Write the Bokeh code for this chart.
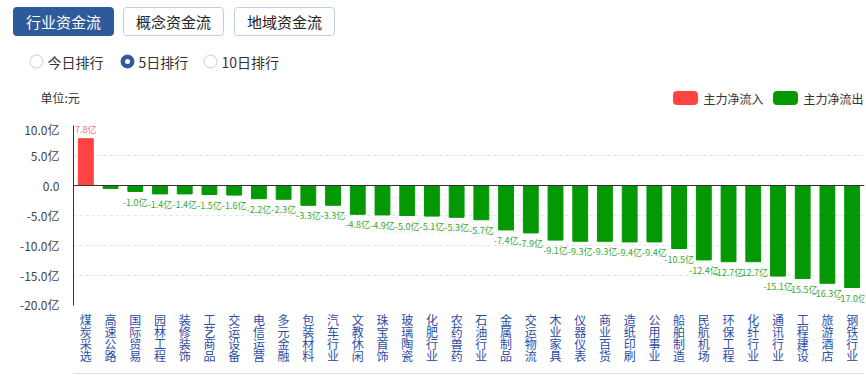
from bokeh.plotting import figure
from bokeh.layouts import column
from bokeh.models import (FactorRange, Range1d, Span, BoxAnnotation, FixedTicker,
                          ColumnDataSource, Label)
from bokeh.core.properties import value
from bokeh.embed import file_html
from bokeh.resources import INLINE

# ---------------- data ----------------
categories = ["煤炭采选", "高速公路", "国际贸易", "园林工程", "装修装饰", "工艺商品", "交运设备",
              "电信运营", "多元金融", "包装材料", "汽车行业", "文教休闲", "珠宝首饰", "玻璃陶瓷",
              "化肥行业", "农药兽药", "石油行业", "金属制品", "交运物流", "木业家具", "仪器仪表",
              "商业百货", "造纸印刷", "公用事业", "船舶制造", "民航机场", "环保工程", "化纤行业",
              "通讯行业", "工程建设", "旅游酒店", "钢铁行业"]
net_flow = [7.8, -0.5, -1.0, -1.4, -1.4, -1.5, -1.6, -2.2, -2.3, -3.3, -3.3, -4.8, -4.9, -5.0,
            -5.1, -5.3, -5.7, -7.4, -7.9, -9.1, -9.3, -9.3, -9.4, -9.4, -10.5, -12.4, -12.7,
            -12.7, -15.1, -15.5, -16.3, -17.0]
hidden_labels = ["高速公路"]
y_ticks = [-20, -15, -10, -5, 0, 5, 10]
y_tick_labels = ["-20.0亿", "-15.0亿", "-10.0亿", "-5.0亿", "0.0", "5.0亿", "10.0亿"]
tabs = ["行业资金流", "概念资金流", "地域资金流"]
radios = ["今日排行", "5日排行", "10日排行"]
legend_items = ["主力净流入", "主力净流出"]

FONT = "Noto Sans CJK SC"
RED = "#ff4242"
GREEN = "#059805"
BLUE = "#2f5a9a"

W = 866
LEFT, RIGHT = 73, 2
TOP_H = 120


def box(fig, l, r, t, b, fill, line, radius):
    fig.add_layout(BoxAnnotation(left=l, right=r, top=t, bottom=b, fill_color=fill,
                                 fill_alpha=1, line_color=line, line_alpha=1 if line else 0,
                                 line_dash="solid", line_width=1, border_radius=int(radius),
                                 level="underlay"))


def label(fig, x, y, text, color, size, align="left"):
    fig.add_layout(Label(x=x, y=y, text=text, text_color=color, text_font=FONT,
                         text_font_size=size, text_align=align, text_baseline="middle"))


# ---------------- top controls (page pixel coordinates) ----------------
top = figure(width=W, height=TOP_H, x_range=Range1d(0, W), y_range=Range1d(TOP_H, 0),
             output_backend="svg", toolbar_location=None, min_border=0)
if "frame_align" in top.properties():
    top.frame_align = False
top.axis.visible = False
top.grid.visible = False
top.outline_line_color = None

tab_x = [13, 123, 234]
for i, (t, x0) in enumerate(zip(tabs, tab_x)):
    active = i == 0
    box(top, x0, x0 + 100, 7, 35, BLUE if active else "white",
        BLUE if active else "#bcd0e8", 3)
    label(top, x0 + 50, 21, t, "white" if active else "#222222", "15px", "center")

radio_x = [36, 127, 210]
for i, (t, rx) in enumerate(zip(radios, radio_x)):
    active = i == 1
    box(top, rx - 6.5, rx + 6.5, 54.5, 67.5, BLUE if active else "white",
        BLUE if active else "#c3d3e6", 7)
    if active:
        box(top, rx - 2.5, rx + 2.5, 58.5, 63.5, "white", None, 3)
    label(top, rx + 11, 61, t, "#333333", "14px")

label(top, 40, 97, "单位:元", "#333333", "12px")

leg_x = [673, 773]
for lx, c, t in zip(leg_x, [RED, GREEN], legend_items):
    box(top, lx, lx + 24, 91, 104, c, c, 3)
    label(top, lx + 30, 97.5, t, "#333333", "12px")

# ---------------- chart ----------------
p = figure(width=W, height=192, x_range=FactorRange(*categories), y_range=Range1d(-20, 10),
           output_backend="svg", toolbar_location=None,
           min_border_left=LEFT, min_border_right=RIGHT, min_border_top=5,
           min_border_bottom=7)
p.outline_line_color = None
p.xgrid.visible = False
p.ygrid.grid_line_color = "#e3e3e3"
p.ygrid.grid_line_dash = "3 3"
p.ygrid.ticker = FixedTicker(ticks=y_ticks)
p.xaxis.visible = False

colors = [RED if v >= 0 else GREEN for v in net_flow]
labels = ["" if c in hidden_labels else f"{v:.1f}亿" for c, v in zip(categories, net_flow)]
src = ColumnDataSource(dict(cat=categories, val=net_flow, color=colors,
                            base=[0] * len(net_flow)))

# watermark
p.text(x=[15.2], y=[-3.2], text=["东方财富网"], text_color="#000000", text_alpha=0.05,
       text_font=value(FONT), text_font_size="32px", text_font_style="bold",
       text_align="center", text_baseline="middle")
p.text(x=[15.6], y=[-6.6], text=["eastmoney.com"], text_color="#000000", text_alpha=0.05,
       text_font=value(FONT), text_font_size="20px", text_font_style="bold",
       text_align="center", text_baseline="middle")

p.vbar(x="cat", top="val", bottom="base", width=0.6, fill_color="color", line_color="color",
       source=src)

pos = ColumnDataSource(dict(cat=[c for c, v in zip(categories, net_flow) if v >= 0],
                            val=[v for v in net_flow if v >= 0],
                            label=[l for l, v in zip(labels, net_flow) if v >= 0]))
neg = ColumnDataSource(dict(cat=[c for c, v in zip(categories, net_flow) if v < 0],
                            val=[v for v in net_flow if v < 0],
                            label=[l for l, v in zip(labels, net_flow) if v < 0]))
p.text(x="cat", y="val", text="label", source=pos, text_color="#ff6b6b",
       text_font=value(FONT), text_font_size="9px", text_align="center",
       text_baseline="bottom", y_offset=-3)
p.text(x="cat", y="val", text="label", source=neg, text_color="#35a835",
       text_font=value(FONT), text_font_size="9px", text_align="center",
       text_baseline="top", y_offset=4)

p.add_layout(Span(location=0, dimension="width", line_color="#333333", line_width=1))

p.yaxis.ticker = FixedTicker(ticks=y_ticks)
p.yaxis.major_label_overrides = {t: l for t, l in zip(y_ticks, y_tick_labels)}
p.yaxis.major_tick_line_color = None
p.yaxis.minor_tick_line_color = None
p.yaxis.axis_line_color = "#333333"
p.yaxis.major_label_text_font = FONT
p.yaxis.major_label_text_font_size = "12px"
p.yaxis.major_label_text_color = "#444444"
p.yaxis.major_label_standoff = 8

# ---------------- stacked category labels ----------------
LAB_H = 375 - TOP_H - 192
lab = figure(width=W, height=LAB_H, x_range=p.x_range, y_range=Range1d(LAB_H, 0),
             output_backend="svg", toolbar_location=None,
             min_border_left=LEFT, min_border_right=RIGHT, min_border_top=0,
             min_border_bottom=0)
lab.axis.visible = False
lab.grid.visible = False
lab.outline_line_color = None
chars_x, chars_y, chars_t = [], [], []
for c in categories:
    for k, ch in enumerate(c):
        chars_x.append(c)
        chars_y.append(7 + 12 * k)
        chars_t.append(ch)
lab.text(x=chars_x, y=chars_y, text=chars_t, text_color="#2d4da5", text_font=value(FONT),
         text_font_size="12px", text_align="center", text_baseline="middle")
lab.add_layout(Span(location=LAB_H - 2, dimension="width", line_color="#dddddd",
                    line_width=1))

layout = column(top, p, lab)
open("out.html", "w").write(file_html(layout, INLINE))
